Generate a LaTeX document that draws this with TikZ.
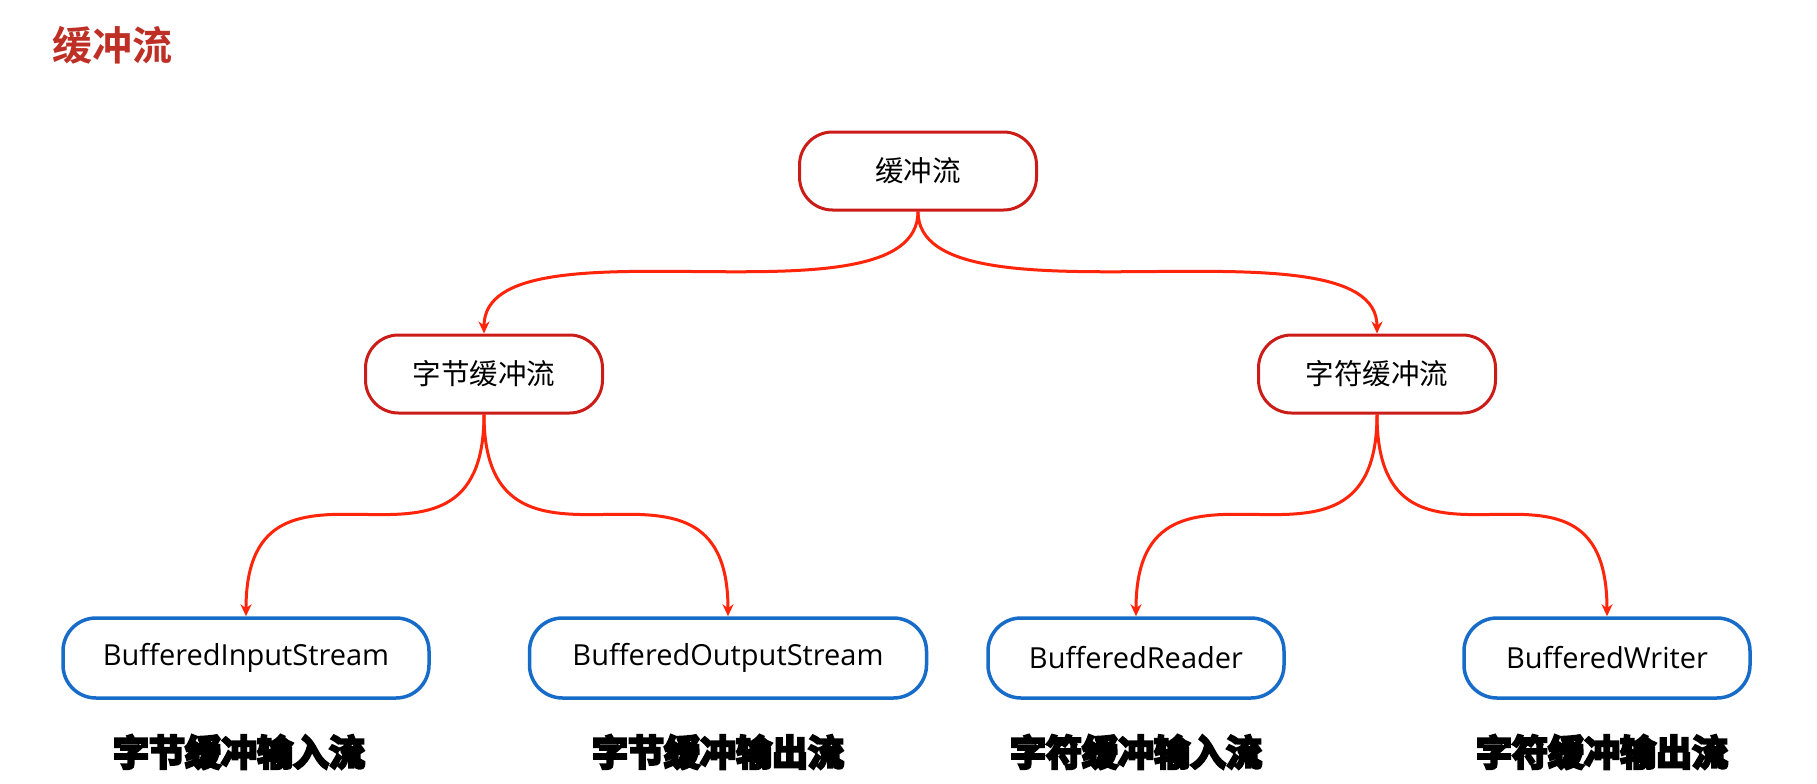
\documentclass[tikz,border=0pt]{standalone}
\usepackage{fontspec}
\newfontfamily\cjk{Noto Sans CJK SC}[BoldFont={* Bold}]
\newfontfamily\lat{Open Sans}
\newfontfamily\heavy{Noto Sans CJK SC Bold}[FakeBold=7]
\usetikzlibrary{arrows.meta}
\definecolor{titlered}{RGB}{190,48,38}
\definecolor{nodered}{RGB}{204,28,24}
\definecolor{linkred}{RGB}{255,36,10}
\definecolor{nodeblue}{RGB}{22,108,200}
\tikzset{
  redbox/.style={draw=nodered, line width=3pt, rounded corners=33pt, minimum width=237pt, minimum height=78pt, inner sep=0pt, font=\cjk\fontsize{28.5}{32}\selectfont, fill=white},
  bluebox/.style={draw=nodeblue, line width=3.5pt, rounded corners=33pt, minimum height=80pt, inner sep=0pt, font=\lat\fontsize{29}{32}\selectfont, fill=white},
  caption/.style={font=\heavy\fontsize{36}{40}\selectfont, inner sep=0pt},
  link/.style={draw=linkred, line width=3pt, -{Stealth[length=12pt,width=11pt]}}
}
\begin{document}
\begin{tikzpicture}[x=1pt,y=-1pt]
\useasboundingbox[fill=white] (0,0) rectangle (1817,784);
\node[font=\cjk\bfseries\fontsize{40}{44}\selectfont, text=titlered, anchor=west, inner sep=0pt] (title) at (52,45) {缓冲流};

\node[redbox] (root) at (918,171) {缓冲流};
\node[redbox] (byte) at (484,374) {字节缓冲流};
\node[redbox] (char) at (1377,374) {字符缓冲流};

\node[bluebox, minimum width=366pt] (bis) at (246,658) {BufferedInputStream};
\node[bluebox, minimum width=397pt] (bos) at (728,658) {BufferedOutputStream};
\node[bluebox, minimum width=296pt] (br)  at (1136,658) {BufferedReader};
\node[bluebox, minimum width=286pt] (bw)  at (1607,658) {BufferedWriter};

\node[caption] (c1) at (239,752) {字节缓冲输入流};
\node[caption] (c2) at (718,752) {字节缓冲输出流};
\node[caption] (c3) at (1136,752) {字符缓冲输入流};
\node[caption] (c4) at (1602,752) {字符缓冲输出流};

\foreach \p/\c in {root/byte, root/char, byte/bis, byte/bos, char/br, char/bw}{
  \draw[link] (\p.south) .. controls (\p.south |- \c.north) and (\c.north |- \p.south) .. (\c.north);
}
\end{tikzpicture}
\end{document}
